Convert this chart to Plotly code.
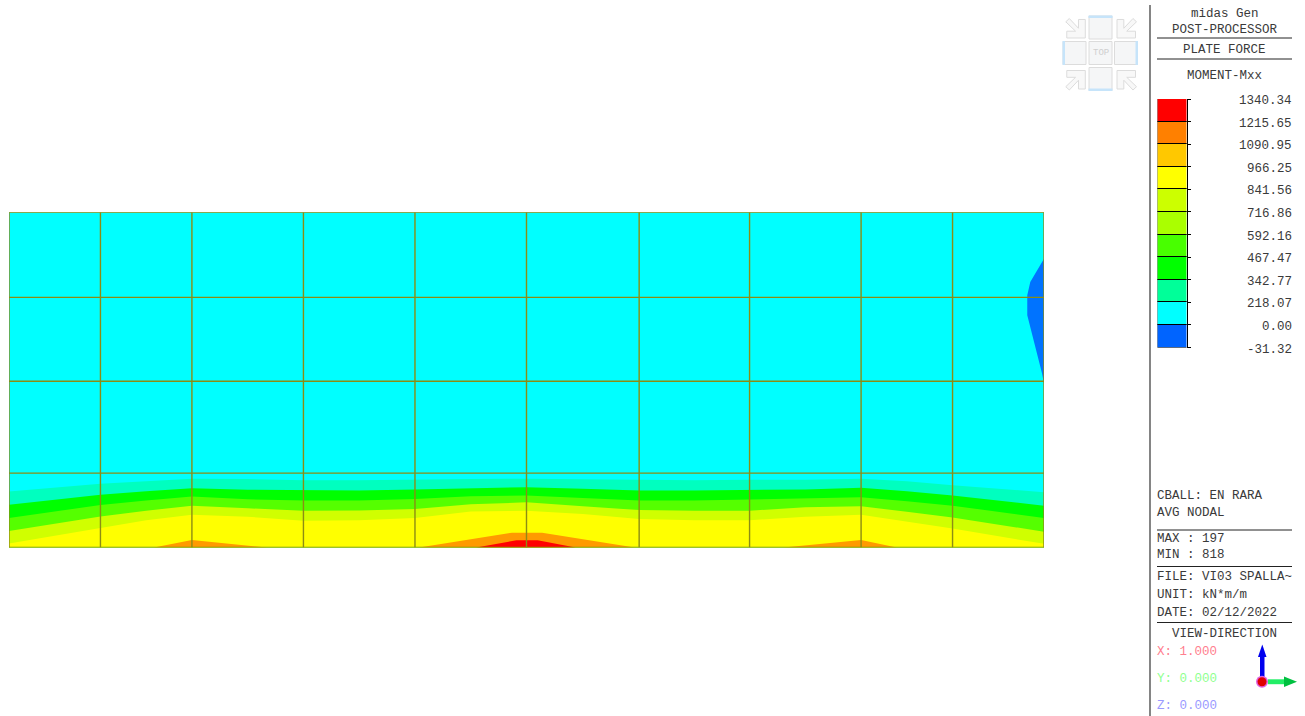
import plotly.graph_objects as go

W, H = 1305, 716

# ---------- model mesh (metres) ----------
mesh_x = [0, 0.82, 1.64, 2.64, 3.64, 4.64, 5.65, 6.64, 7.64, 8.46, 9.28]
mesh_y = [0, 0.668, 1.493, 2.246, 3.01]

# ---------- contour band upper edges along the wall ----------
band_x = [0, 0.82, 1.23, 1.64, 2.14, 2.64, 3.14, 3.64, 4.14, 4.64, 5.145, 5.65, 6.145, 6.64, 7.14, 7.64, 8.05, 8.46, 9.28]
top_cyan = [3.01] * 19
top_spring = [.503, .573, .594, .618, .615, .603, .603, .612, .615, .618, .612, .603, .603, .609, .609, .618, .594, .558, .497]
top_green = [.385, .473, .506, .533, .518, .512, .512, .521, .533, .542, .527, .512, .512, .518, .521, .536, .506, .467, .376]
top_lime = [.264, .382, .421, .458, .433, .421, .421, .436, .461, .467, .445, .421, .421, .430, .445, .451, .415, .376, .264]
top_yellowgreen = [.148, .279, .330, .376, .352, .330, .333, .345, .388, .406, .370, .336, .330, .330, .361, .370, .321, .270, .142]
top_yellow = [.036, .176, .245, .294, .276, .240, .245, .264, .324, .330, .300, .255, .245, .245, .276, .294, .233, .170, .033]

orange_left_x = [1.30, 1.64, 2.314]
orange_left_y = [0, .067, 0]
orange_mid_x = [3.677, 4.51, 4.78, 5.61]
orange_mid_y = [0, .133, .133, 0]
orange_right_x = [6.945, 7.64, 7.96]
orange_right_y = [0, .067, 0]
red_x = [4.19, 4.55, 4.74, 5.08]
red_y = [0, .065, .065, 0]
blue_x = [9.28, 9.157, 9.13, 9.13, 9.262, 9.278, 9.28]
blue_y = [2.594, 2.384, 2.265, 2.085, 1.565, 1.475, 1.475]

# ---------- legend ----------
legend_values = ["1340.34", "1215.65", "1090.95", "966.25", "841.56", "716.86",
                 "592.16", "467.47", "342.77", "218.07", "0.00", "-31.32"]
legend_colors = ["#ff0000", "#ff8000", "#ffc800", "#ffff00", "#ccff00", "#aaff00",
                 "#48ff00", "#00ff00", "#00ff99", "#00ffff", "#0064ff"]

header_texts = ["midas Gen", "POST-PROCESSOR", "PLATE FORCE", "MOMENT-Mxx"]
info_texts = ["CBALL: EN RARA", "AVG NODAL", "MAX : 197", "MIN : 818",
              "FILE: VI03 SPALLA~", "UNIT: kN*m/m", "DATE: 02/12/2022"]
view_texts = ["X: 1.000", "Y: 0.000", "Z: 0.000"]

FONT = "Liberation Mono"
TEXT = "#3a3a3a"
GRID = "#8c8c14"


def px(x):
    return x / W


def py(y):
    return 1 - y / H


def rect(x0, y0, x1, y1, fill, line=None, w=1):
    return dict(type="rect", xref="paper", yref="paper", x0=px(x0), x1=px(x1), y0=py(y0), y1=py(y1),
                fillcolor=fill, line=dict(color=line, width=w) if line else dict(width=0))


def seg(x0, y0, x1, y1, color, w=1):
    return dict(type="line", xref="paper", yref="paper", x0=px(x0), x1=px(x1), y0=py(y0), y1=py(y1),
                line=dict(color=color, width=w))


def poly(points, fill, line=None, w=1):
    path = "M " + " L ".join(f"{px(a):.5f},{py(b):.5f}" for a, b in points) + " Z"
    return dict(type="path", xref="paper", yref="paper", path=path, fillcolor=fill,
                line=dict(color=line, width=w) if line else dict(width=0))


def label(x, y, text, anchor="left", color=TEXT, size=12.5):
    return dict(xref="paper", yref="paper", x=px(x), y=py(y), text=text, showarrow=False,
                xanchor=anchor, yanchor="middle", font=dict(family=FONT, size=size, color=color))


fig = go.Figure()


def band(x, y, color, fill="tozeroy"):
    fig.add_trace(go.Scatter(x=x, y=y, mode="lines", line=dict(width=0), fill=fill,
                             fillcolor=color, hoverinfo="skip", showlegend=False))


band(band_x, top_cyan, "#00ffff")
band(band_x, top_spring, "#00ffbf")
band(band_x, top_green, "#00ff00")
band(band_x, top_lime, "#55ff00")
band(band_x, top_yellowgreen, "#d0ff00")
band(band_x, top_yellow, "#ffff00")
band(orange_left_x, orange_left_y, "#ff9a00")
band(orange_mid_x, orange_mid_y, "#ff9a00")
band(orange_right_x, orange_right_y, "#ff9a00")
band(red_x, red_y, "#ff0000")
band(blue_x, blue_y, "#0073ff", fill="toself")

# mesh lines
gx, gy = [], []
for v in mesh_x:
    gx += [v, v, None]
    gy += [mesh_y[0], mesh_y[-1], None]
for v in mesh_y:
    gx += [mesh_x[0], mesh_x[-1], None]
    gy += [v, v, None]
fig.add_trace(go.Scatter(x=gx, y=gy, mode="lines", line=dict(color=GRID, width=1.4),
                         hoverinfo="skip", showlegend=False, cliponaxis=False))

# legend bar
n = len(legend_colors)
fig.add_trace(go.Bar(x=["band"] * n, y=[1] * n, base=[n - 1 - i for i in range(n)],
                     marker=dict(color=legend_colors, line=dict(color="#000000", width=1)),
                     xaxis="x2", yaxis="y2", hoverinfo="skip", showlegend=False, width=1, cliponaxis=False))

shapes = []
# panel rules
shapes.append(seg(1150, 5, 1150, 716, "#666666", 1.6))
for yy in (38, 59, 530, 566.5, 622.5):
    shapes.append(seg(1157, yy, 1292, yy, "#222222", 1))

# navigation cube
SQ, EDGE, BLUE = "#f5f6f7", "#dcdcdc", "#c6e4fa"
shapes.append(rect(1089, 16, 1112, 39, SQ, EDGE))
shapes.append(rect(1063, 41.5, 1086, 64.5, SQ, EDGE))
shapes.append(rect(1089, 41.5, 1112, 64.5, SQ, EDGE))
shapes.append(rect(1114.5, 41.5, 1137.5, 64.5, SQ, EDGE))
shapes.append(rect(1089, 67.5, 1112, 90.5, SQ, EDGE))
shapes.append(rect(1088.5, 15.5, 1112.5, 18, BLUE))
shapes.append(rect(1062.5, 41, 1065, 65, BLUE))
shapes.append(rect(1135.5, 41, 1138, 65, BLUE))
shapes.append(rect(1088.5, 88.5, 1112.5, 91, BLUE))
arrow = [(1, 1), (.05, 1), (.05, .65), (.5, .65), (0, .17), (.18, 0), (.65, .5), (.65, .05), (1, .05)]
for cx, cy, sx, sy in ((1085.3, 38, -1, -1), (1117, 38, 1, -1), (1085.3, 70.5, -1, 1), (1117, 70.5, 1, 1)):
    shapes.append(poly([(cx + sx * 19.5 * (1 - a), cy + sy * 19.5 * (1 - b)) for a, b in arrow],
                       "#f8f8f8", EDGE, 1))

# view triad
shapes.append(rect(1260, 655, 1264.5, 678, "#0000ee"))
shapes.append(poly([(1262.3, 644.5), (1266.5, 657), (1258, 657)], "#0000ee"))
shapes.append(rect(1268, 679.3, 1285, 684.2, "#22ee66"))
shapes.append(poly([(1297, 681.7), (1284, 676.5), (1284, 687)], "#00c040"))
shapes.append(dict(type="circle", xref="paper", yref="paper", x0=px(1256), x1=px(1268), y0=py(687.7), y1=py(675.7),
                   fillcolor="#e060e0", line=dict(width=0)))
shapes.append(dict(type="circle", xref="paper", yref="paper", x0=px(1257.5), x1=px(1266.5), y0=py(686.2), y1=py(677.2),
                   fillcolor="#e00000", line=dict(width=0)))

ann = []
header_y = [14, 30, 50, 76]
for t, yy in zip(header_texts, header_y):
    ann.append(label(1224.5, yy, t, "center"))
info_y = [496, 513, 539, 555, 577, 595, 613]
for t, yy in zip(info_texts, info_y):
    ann.append(label(1155, yy, t))
ann.append(label(1224.5, 633.5, "VIEW-DIRECTION", "center"))
for t, yy, c in zip(view_texts, [652, 679, 706], ["#ff7f8f", "#90ff90", "#9a9aff"]):
    ann.append(label(1155, yy, t, color=c))
ann.append(label(1100.5, 53, "TOP", "center", "#cfcfcf", 9))
for i, t in enumerate(legend_values):
    ann.append(dict(xref="paper", yref="y2", x=px(1294), y=n - i, text=t, showarrow=False,
                    xanchor="right", yanchor="middle", yshift=-2,
                    font=dict(family=FONT, size=12.5, color=TEXT)))

fig.update_layout(
    width=W, height=H, margin=dict(l=0, r=0, t=0, b=0), autosize=False,
    paper_bgcolor="#ffffff", plot_bgcolor="#ffffff", showlegend=False, bargap=0,
    barmode="overlay", shapes=shapes, annotations=ann,
    xaxis=dict(domain=[px(9), px(1044)], range=[0, 9.28], visible=False, fixedrange=True),
    yaxis=dict(domain=[py(547.5), py(212.3)], range=[0, 3.01], visible=False, fixedrange=True),
    xaxis2=dict(domain=[px(1157.5), px(1186.5)], visible=False, anchor="y2", type="category",
                range=[-0.5, 0.45], fixedrange=True),
    yaxis2=dict(domain=[py(347.5), py(99)], range=[0, n], anchor="x2", side="right", showgrid=False,
                zeroline=False, showline=True, linecolor="#000000", linewidth=1, showticklabels=False,
                ticks="outside", ticklen=3, tickcolor="#000000", tickwidth=1,
                tickvals=list(range(n + 1)), fixedrange=True),
)
fig.write_html("out.html", config=dict(displayModeBar=False),
               post_script="document.body.style.margin='0';document.body.style.overflow='hidden';")
